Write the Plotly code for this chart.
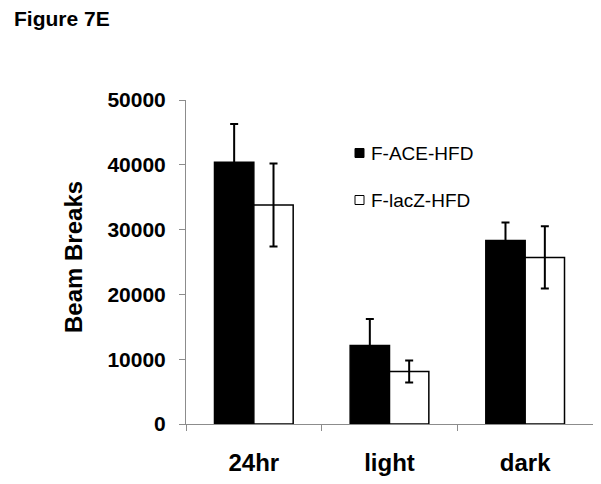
import plotly.graph_objects as go

categories = ["24hr", "light", "dark"]
ace_values = [40400, 12100, 28300]
ace_errors = [5900, 4100, 2800]
lacz_values = [33800, 8100, 25700]
lacz_errors = [6400, 1700, 4800]
y_ticks = [0, 10000, 20000, 30000, 40000, 50000]
series_names = ["F-ACE-HFD", "F-lacZ-HFD"]
series_colors = ["black", "white"]

FONT = "Liberation Sans, Arial, sans-serif"
# page body has an 8px margin; plot area in absolute px: x 186..593, y 100..424
W, H = 593, 476
ML, MT, MR, MB = 178, 92, 8, 60
PW, PH = W - ML - MR, H - MT - MB


def px_x(ax):  # absolute page x -> paper
    return (ax - 8 - ML) / PW


def px_y(ay):  # absolute page y -> paper
    return (H - MB - (ay - 8)) / PH


fig = go.Figure()
for name, vals, errs, col in [(series_names[0], ace_values, ace_errors, series_colors[0]),
                              (series_names[1], lacz_values, lacz_errors, series_colors[1])]:
    fig.add_trace(go.Bar(
        x=categories, y=vals, name=name, showlegend=False,
        marker=dict(color=col, line=dict(color="black", width=1.5)),
        error_y=dict(type="data", array=errs, color="black", thickness=2, width=4),
    ))

shapes = []
annotations = []
legend_y = [153, 200]
for name, col, ly in zip(series_names, series_colors, legend_y):
    shapes.append(dict(type="rect", xref="paper", yref="paper",
                       x0=px_x(355), x1=px_x(364), y0=px_y(ly - 4.5), y1=px_y(ly + 4.5),
                       fillcolor=col, line=dict(color="black", width=1)))
    annotations.append(dict(text=name, xref="paper", yref="paper",
                            x=px_x(369), y=px_y(ly), xanchor="left", yanchor="middle",
                            showarrow=False, font=dict(family=FONT, size=19, color="black")))

annotations.append(dict(text="<b>Figure 7E</b>", xref="paper", yref="paper",
                        x=px_x(13), y=px_y(18), xanchor="left", yanchor="middle",
                        showarrow=False, borderpad=0,
                        font=dict(family=FONT, size=21, color="black")))
annotations.append(dict(text="<b>Beam Breaks</b>", xref="paper", yref="paper",
                        x=px_x(73), y=px_y(257), xanchor="center", yanchor="middle",
                        textangle=-90, showarrow=False,
                        font=dict(family=FONT, size=24, color="black")))

fig.update_layout(
    width=W, height=H,
    margin=dict(l=ML, r=MR, t=MT, b=MB),
    paper_bgcolor="white", plot_bgcolor="white",
    barmode="group", bargap=0.42, bargroupgap=0,
    font=dict(family=FONT, color="black"),
    showlegend=False,
    xaxis=dict(
        type="category", showline=True, linecolor="#8c8c8c", linewidth=1,
        ticks="outside", tickson="boundaries", ticklen=6, tickcolor="#8c8c8c",
        tickfont=dict(family=FONT, size=24, color="black", weight="bold"),
        ticklabelstandoff=17, showgrid=False, zeroline=False,
    ),
    yaxis=dict(
        range=[0, 50000], tickvals=y_ticks, ticktext=[str(v) for v in y_ticks],
        showline=True, linecolor="#8c8c8c", linewidth=1,
        ticks="outside", ticklen=6, tickcolor="#8c8c8c",
        tickfont=dict(family=FONT, size=21, color="black", weight="bold"),
        ticklabelstandoff=9, showgrid=False, zeroline=False,
    ),
    shapes=shapes,
    annotations=annotations,
)

fig.write_html("out.html")
